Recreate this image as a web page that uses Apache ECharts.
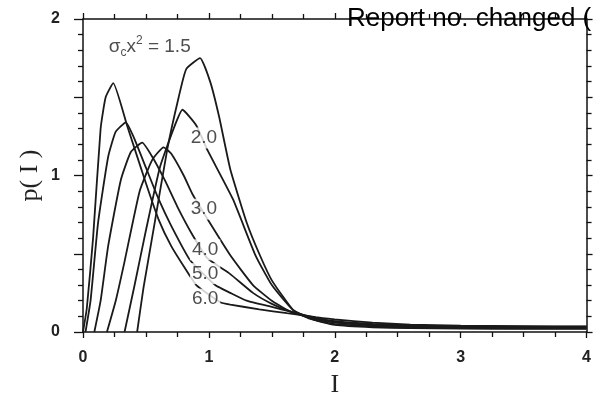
<!doctype html>
<html lang="en">
<head>
    <meta charset="utf-8">
    <title>p(I)</title>
    <script src="https://cdn.jsdelivr.net/npm/echarts@6/dist/echarts.min.js"></script>
</head>
<body style="margin:0; background:#fff;">
    <div id="main" style="width:594px; height:403px;"></div>
    <script type="text/javascript">
        // curves, one (I, p) pair list per sigma value
        var curveNames = ['1.5', '2.0', '3.0', '4.0', '5.0', '6.0'];

        var i15 = [0.43, 0.48, 0.57, 0.67, 0.76, 0.82, 0.93, 1.01, 1.08, 1.17, 1.3, 1.4, 1.5, 1.67, 1.8, 2.0, 2.3, 2.6, 3.0, 3.5, 4.0];
        var p15 = [0, 0.28, 0.70, 1.17, 1.50, 1.68, 1.75, 1.60, 1.38, 1.04, 0.70, 0.50, 0.33, 0.14, 0.085, 0.045, 0.03, 0.025, 0.022, 0.02, 0.02];

        var i20 = [0.33, 0.41, 0.50, 0.61, 0.72, 0.79, 0.90, 0.99, 1.19, 1.37, 1.5, 1.67, 1.85, 2.0, 2.3, 2.6, 3.0, 3.5, 4.0];
        var p20 = [0, 0.30, 0.65, 1.05, 1.30, 1.42, 1.32, 1.16, 0.85, 0.49, 0.30, 0.14, 0.075, 0.05, 0.035, 0.028, 0.025, 0.024, 0.024];

        var i30 = [0.19, 0.26, 0.33, 0.45, 0.55, 0.64, 0.70, 0.80, 0.87, 0.99, 1.17, 1.35, 1.5, 1.65, 1.85, 2.0, 2.3, 2.6, 3.0, 3.5, 4.0];
        var p30 = [0, 0.20, 0.45, 0.90, 1.10, 1.18, 1.14, 1.00, 0.88, 0.72, 0.49, 0.30, 0.20, 0.13, 0.08, 0.06, 0.042, 0.034, 0.03, 0.028, 0.028];

        var i40 = [0.09, 0.14, 0.20, 0.30, 0.38, 0.47, 0.55, 0.65, 0.75, 0.87, 0.99, 1.17, 1.35, 1.5, 1.65, 1.85, 2.0, 2.3, 2.6, 3.0, 3.5, 4.0];
        var p40 = [0, 0.20, 0.55, 0.97, 1.15, 1.21, 1.12, 0.97, 0.80, 0.62, 0.47, 0.37, 0.25, 0.18, 0.13, 0.085, 0.065, 0.047, 0.038, 0.033, 0.031, 0.031];

        var i50 = [0.02, 0.06, 0.12, 0.20, 0.26, 0.34, 0.40, 0.50, 0.60, 0.70, 0.85, 1.05, 1.17, 1.3, 1.5, 1.65, 1.85, 2.0, 2.3, 2.6, 3.0, 3.5, 4.0];
        var p50 = [0, 0.20, 0.70, 1.12, 1.28, 1.34, 1.25, 1.05, 0.85, 0.68, 0.46, 0.30, 0.25, 0.20, 0.16, 0.13, 0.09, 0.07, 0.052, 0.042, 0.036, 0.034, 0.034];

        var i60 = [0.0, 0.03, 0.08, 0.14, 0.18, 0.24, 0.35, 0.50, 0.60, 0.70, 0.80, 0.90, 1.09, 1.17, 1.4, 1.62, 1.85, 2.0, 2.3, 2.6, 3.0, 3.5, 4.0];
        var p60 = [0, 0.15, 0.60, 1.30, 1.50, 1.59, 1.32, 0.95, 0.72, 0.55, 0.42, 0.30, 0.19, 0.175, 0.145, 0.12, 0.095, 0.08, 0.06, 0.047, 0.04, 0.037, 0.036];

        // where the curve labels sit (I, p)
        var labelI = [0.96, 0.96, 0.97, 0.97, 0.97];
        var labelP = [1.24, 0.785, 0.525, 0.373, 0.21];
        var labelText = ['2.0', '3.0', '4.0', '5.0', '6.0'];

        var allI = [i15, i20, i30, i40, i50, i60];
        var allP = [p15, p20, p30, p40, p50, p60];

        function zip(a, b) {
            return a.map(function (v, k) { return [v, b[k]]; });
        }

        var chart = echarts.init(document.getElementById('main'));

        var sans = 'Liberation Sans, Arial, sans-serif';
        var serif = 'Liberation Serif, Times New Roman, serif';
        var tickFont = { color: '#222', fontSize: 16, fontWeight: 'bold', fontFamily: sans };
        var lineCol = { color: '#111', width: 1.5 };
        var tickCol = { color: '#111', width: 1.3 };

        var series = curveNames.map(function (name, k) {
            return {
                name: name,
                type: 'line',
                data: zip(allI[k], allP[k]),
                showSymbol: false,
                smooth: 0.15,
                lineStyle: { color: '#1a1a1a', width: 1.8 },
                z: 2
            };
        });

        // curve labels on a white patch, like the broken lines in the figure
        series.push({
            type: 'scatter',
            data: labelText.map(function (t, k) { return [labelI[k], labelP[k], t]; }),
            symbolSize: 0,
            z: 5,
            label: {
                show: true,
                position: 'inside',
                formatter: function (p) { return p.value[2]; },
                color: '#222',
                fontSize: 19,
                fontFamily: sans,
                backgroundColor: '#fff',
                padding: [1, 2]
            }
        });

        // sigma_c x^2 = 1.5 annotation
        series.push({
            type: 'scatter',
            data: [[0.53, 1.82]],
            symbolSize: 0,
            z: 5,
            label: {
                show: true,
                position: 'inside',
                formatter: '{a|\u03c3}{s|c}{a|x}{p|2}{a| = 1.5}',
                rich: {
                    a: { fontSize: 19, color: '#222', fontFamily: sans },
                    s: { fontSize: 12, color: '#222', fontFamily: sans, verticalAlign: 'bottom', padding: [12, 0, 0, 0] },
                    p: { fontSize: 12, color: '#222', fontFamily: sans, verticalAlign: 'top', padding: [0, 0, 10, 0] }
                }
            }
        });

        function frameAxis(extra) {
            return Object.assign({
                type: 'value',
                axisLine: { show: true, onZero: false, lineStyle: lineCol },
                axisTick: { show: true, inside: false, length: 6, lineStyle: tickCol },
                splitLine: { show: false }
            }, extra);
        }

        var option = {
            animation: false,
            backgroundColor: '#fff',
            grid: { left: 83, right: 7, top: 19, bottom: 68 },
            graphic: [{
                type: 'text',
                left: 347,
                top: 6,
                z: 10,
                style: {
                    text: 'Report no. changed (',
                    fontSize: 26,
                    fontFamily: sans,
                    fill: '#000'
                }
            }],
            xAxis: [frameAxis({
                min: 0, max: 4, interval: 1,
                name: 'I',
                nameLocation: 'middle',
                nameGap: 40,
                nameTextStyle: { fontSize: 26, color: '#222', fontFamily: serif },
                minorTick: { show: true, splitNumber: 4, length: 5, lineStyle: tickCol },
                axisLabel: Object.assign({ margin: 18 }, tickFont)
            }), frameAxis({
                position: 'top',
                min: 0, max: 4, interval: 1,
                minorTick: { show: true, splitNumber: 4, length: 5, lineStyle: tickCol },
                axisLabel: { show: false }
            })],
            yAxis: [frameAxis({
                min: 0, max: 2, interval: 0.5,
                name: 'p( I )',
                nameLocation: 'middle',
                nameGap: 40,
                nameMoveOverlap: false,
                nameRotate: 90,
                nameTextStyle: { fontSize: 26, color: '#222', fontFamily: serif },
                axisTick: { show: true, inside: false, length: 9, lineStyle: tickCol },
                minorTick: { show: true, splitNumber: 5, length: 5, lineStyle: tickCol },
                axisLabel: Object.assign({
                    margin: 23,
                    formatter: function (v) { return Number.isInteger(v) ? v : ''; }
                }, tickFont)
            }), frameAxis({
                position: 'right',
                min: 0, max: 2, interval: 0.5,
                minorTick: { show: true, splitNumber: 5, length: 5, lineStyle: tickCol },
                axisLabel: { show: false }
            })],
            series: series
        };

        chart.setOption(option);
    </script>
</body>
</html>
